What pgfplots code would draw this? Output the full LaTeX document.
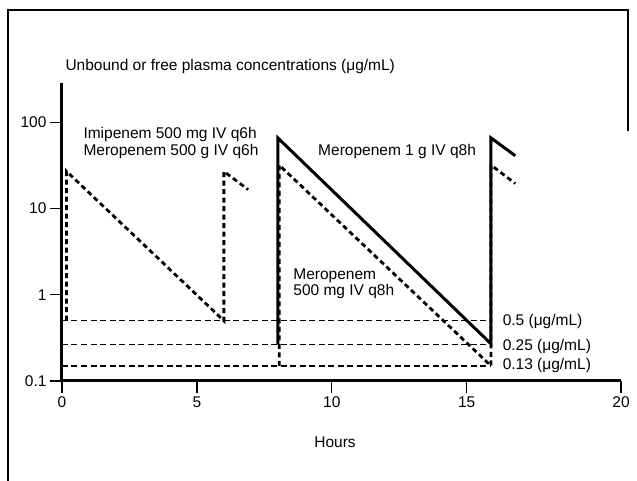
\documentclass[border=0pt]{standalone}
\usepackage{pgfplots}
\pgfplotsset{compat=1.18}
\usepackage{fontspec}
\setmainfont{Liberation Sans}

\newcommand{\lblfont}{\fontsize{15.5}{16.8}\selectfont}

\begin{document}
\begin{tikzpicture}
% page = 637 x 481 pt, axis origin sits at pixel (62,381)
\path[use as bounding box] (-62pt,-100pt) rectangle (575pt,381pt);
\draw[line width=1.2pt] (-54pt,-110pt) -- (-54pt,371pt) -- (566pt,371pt) -- (566pt,250pt);

\begin{axis}[
    at={(0pt,0pt)}, anchor=south west,
    scale only axis,
    width=559pt, height=298pt,
    ymode=log,
    xmin=0, xmax=20.72,
    ymin=0.1, ymax=286,
    axis x line=bottom, axis y line=left,
    axis line style={-, line width=3pt},
    tick align=outside,
    major tick length=12pt,
    every tick/.style={black, line width=1.4pt},
    xtick={0,5,10,15,20.72},
    xticklabels={0,5,10,15,20},
    ytick={0.1,1,10,100},
    yticklabels={0.1,1,10,100},
    yminorticks=false,
    ticklabel style={font=\lblfont},
    xlabel={Hours},
    ylabel={Unbound or free plasma concentrations (μg/mL)},
    every axis x label/.style={at={(axis description cs:0.4884,-0.2047)}, anchor=center, font=\lblfont},
    every axis y label/.style={at={(axis description cs:0,1.055)}, anchor=west, font=\lblfont},
    clip=false,
]

% threshold lines
\addplot[black, line width=1.4pt, dash pattern=on 6pt off 3.5pt] coordinates {(0,0.5) (15.9,0.5)};
\addplot[black, line width=1.4pt, dash pattern=on 6pt off 3.5pt] coordinates {(0,0.265) (15.9,0.265)};
\addplot[black, line width=1.4pt, dash pattern=on 6pt off 3.5pt] coordinates {(0,0.15) (15.9,0.15)};

% imipenem / meropenem 500 q6h
\addplot[black, line width=2.8pt, dash pattern=on 5pt off 3.5pt] coordinates {
    (0.17,0.5) (0.17,27) (6.0,0.5) (6.0,27) (6.9,16.6)};

% meropenem 500 mg q8h
\addplot[black, line width=2.8pt, dash pattern=on 5pt off 3.5pt] coordinates {
    (8.05,0.15) (8.05,32) (15.9,0.15) (15.9,32) (16.8,19.5)};

% meropenem 1 g q8h
\addplot[black, line width=3pt] coordinates {
    (8.0,0.265) (8.0,66) (15.9,0.27) (15.9,66) (16.8,41)};

\node[anchor=west, align=left, font=\lblfont, inner sep=0pt] at (axis cs:0.79,57)
    {Imipenem 500 mg IV q6h\\Meropenem 500 g IV q6h};
\node[anchor=west, font=\lblfont, inner sep=0pt] at (axis cs:9.49,45.6) {Meropenem 1 g IV q8h};
\node[anchor=west, align=left, font=\lblfont, inner sep=0pt] at (axis cs:8.57,1.34)
    {Meropenem\\500 mg IV q8h};
\node[anchor=west, font=\lblfont, inner sep=0pt] at (axis cs:16.33,0.49) {0.5 (μg/mL)};
\node[anchor=west, font=\lblfont, inner sep=0pt] at (axis cs:16.33,0.25) {0.25 (μg/mL)};
\node[anchor=west, font=\lblfont, inner sep=0pt] at (axis cs:16.33,0.15) {0.13 (μg/mL)};
\end{axis}
\end{tikzpicture}
\end{document}
